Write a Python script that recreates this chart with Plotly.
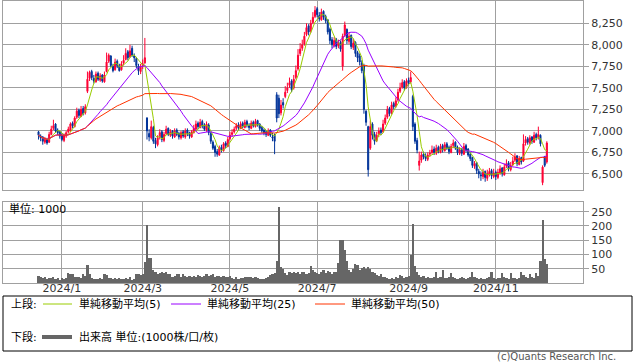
import pandas as pd
import plotly.graph_objects as go

W, H = 638, 362

# ---------------- data ----------------
holidays = ['2024-01-01', '2024-01-02', '2024-01-03', '2024-01-08', '2024-02-12', '2024-02-23',
            '2024-03-20', '2024-04-29', '2024-05-03', '2024-05-06', '2024-07-15', '2024-08-12',
            '2024-09-16', '2024-09-23', '2024-10-14', '2024-11-04']
dates = [d.strftime('%Y-%m-%d') for d in pd.bdate_range('2023-12-15', '2024-12-06')
         if d.strftime('%Y-%m-%d') not in holidays]

opens = [
    6990, 6940, 6930, 6870, 6900, 6870, 6960, 7030, 7080, 7010,
    6990, 6950, 6890, 6940, 6990, 7000, 7090, 7050, 7160, 7240,
    7170, 7260, 7210, 7460, 7610, 7690, 7610, 7570, 7670, 7590,
    7650, 7570, 7690, 7810, 7870, 7750, 7710, 7810, 7750, 7710,
    7790, 7830, 7920, 7860, 7960, 7870, 7840, 7750, 7690, 7760,
    7790, 7150, 6970, 6920, 7040, 6890, 6840, 6930, 6990, 6890,
    6970, 7030, 6950, 7000, 6930, 7010, 6970, 6920, 6990, 6930,
    7010, 6980, 6930, 6980, 7020, 7090, 7040, 7110, 7070, 7010,
    7070, 6970, 6870, 6820, 6760, 6720, 6810, 6770, 6860, 6820,
    6910, 6960, 6990, 7030, 7070, 7030, 7090, 7040, 7110, 7060,
    7030, 7100, 7050, 7120, 7080, 7040, 7010, 6990, 6950, 7010,
    6930, 6950, 7420, 7380, 7210, 7330, 7400, 7470, 7530, 7580,
    7500, 7620, 7720, 7900, 7960, 8010, 8120, 8220, 8160, 8260,
    8330, 8420, 8340, 8290, 8390, 8330, 8290, 8180, 8060, 7990,
    8060, 7990, 8030, 7750, 8110, 8180, 8040, 8110, 7970, 8030,
    7910, 7870, 7790, 7760, 7230, 7050, 6800, 7080, 6960, 6890,
    6960, 7010, 6990, 7090, 7160, 7260, 7210, 7320, 7290, 7360,
    7460, 7510, 7570, 7510, 7590, 7570, 7400, 7080, 6890, 6600,
    6660, 6730, 6710, 6670, 6730, 6750, 6790, 6740, 6810, 6750,
    6830, 6770, 6850, 6810, 6750, 6830, 6870, 6810, 6740, 6790,
    6730, 6830, 6790, 6730, 6690, 6590, 6630, 6530, 6490, 6470,
    6530, 6450, 6490, 6540, 6470, 6520, 6460, 6510, 6570, 6490,
    6590, 6630, 6550, 6610, 6660, 6710, 6610, 6690, 6650, 6860,
    6910, 6860, 6930, 6870, 6960, 6930, 6950, 6400, 6700, 6640,
]
highs = [
    7000, 6960, 6940, 6930, 6920, 6990, 7060, 7130, 7090, 7030,
    7000, 6970, 6970, 7000, 7050, 7100, 7110, 7170, 7270, 7260,
    7290, 7290, 7310, 7690, 7700, 7710, 7650, 7690, 7690, 7670,
    7660, 7690, 7910, 7900, 7880, 7780, 7840, 7830, 7780, 7810,
    7880, 7960, 7940, 8000, 7990, 7900, 7860, 7780, 7780, 7830,
    8080, 7160, 7020, 7120, 7060, 6920, 6950, 7020, 7010, 6990,
    7060, 7040, 7020, 7010, 7030, 7030, 6990, 7000, 7010, 7030,
    7030, 6990, 7010, 7070, 7120, 7110, 7140, 7130, 7090, 7110,
    7090, 6990, 6890, 6840, 6790, 6830, 6840, 6870, 6880, 6930,
    6990, 7020, 7050, 7090, 7100, 7110, 7110, 7130, 7130, 7090,
    7120, 7120, 7140, 7130, 7090, 7060, 7030, 7010, 7030, 7020,
    6980, 6970, 7450, 7420, 7360, 7380, 7520, 7560, 7620, 7600,
    7650, 7760, 7950, 8020, 8060, 8150, 8250, 8240, 8290, 8380,
    8450, 8440, 8380, 8420, 8400, 8350, 8300, 8200, 8090, 8090,
    8080, 8060, 8050, 8130, 8270, 8190, 8140, 8120, 8070, 8040,
    7930, 7900, 7820, 7780, 7240, 7060, 7120, 7100, 6990, 6990,
    7040, 7040, 7130, 7190, 7290, 7280, 7340, 7340, 7390, 7490,
    7560, 7600, 7590, 7610, 7620, 7690, 7420, 7100, 6920, 6760,
    6760, 6760, 6740, 6750, 6780, 6830, 6820, 6840, 6830, 6850,
    6850, 6870, 6870, 6830, 6850, 6900, 6880, 6830, 6810, 6800,
    6860, 6850, 6800, 6750, 6700, 6650, 6640, 6560, 6530, 6560,
    6540, 6550, 6570, 6560, 6560, 6540, 6560, 6600, 6580, 6620,
    6670, 6650, 6640, 6700, 6740, 6720, 6710, 6700, 6960, 6940,
    6930, 6950, 6940, 6990, 6980, 7050, 6960, 6600, 6710, 6880,
]
lows = [
    6900, 6880, 6840, 6850, 6840, 6860, 6950, 7010, 6980, 6950,
    6910, 6880, 6870, 6920, 6970, 6990, 7030, 7040, 7140, 7150,
    7160, 7180, 7190, 7440, 7580, 7590, 7550, 7560, 7580, 7570,
    7560, 7560, 7680, 7790, 7740, 7680, 7700, 7730, 7690, 7700,
    7760, 7820, 7820, 7850, 7860, 7800, 7730, 7650, 7660, 7720,
    7780, 6900, 6880, 6900, 6850, 6800, 6820, 6900, 6870, 6870,
    6950, 6940, 6930, 6910, 6920, 6940, 6900, 6900, 6920, 6910,
    6940, 6910, 6920, 6970, 7000, 7020, 7030, 7030, 7000, 6990,
    6950, 6850, 6780, 6700, 6700, 6710, 6750, 6760, 6800, 6810,
    6890, 6930, 6970, 7010, 7010, 7020, 7030, 7030, 7040, 7010,
    7020, 7040, 7040, 7050, 7000, 6980, 6950, 6930, 6940, 6930,
    6880, 6730, 7100, 7150, 7180, 7260, 7380, 7440, 7500, 7450,
    7480, 7600, 7700, 7870, 7930, 7990, 8100, 8110, 8140, 8240,
    8310, 8320, 8270, 8280, 8290, 8250, 8120, 8010, 7960, 7970,
    7950, 7960, 7920, 7700, 8090, 8010, 8010, 7950, 7940, 7860,
    7800, 7760, 7670, 7200, 7060, 6470, 6780, 6900, 6840, 6870,
    6930, 6950, 6980, 7070, 7140, 7170, 7190, 7250, 7270, 7340,
    7440, 7490, 7470, 7490, 7530, 7550, 7000, 6850, 6740, 6540,
    6630, 6670, 6650, 6650, 6700, 6730, 6720, 6720, 6740, 6740,
    6750, 6760, 6780, 6730, 6740, 6800, 6780, 6720, 6720, 6710,
    6720, 6750, 6700, 6650, 6570, 6560, 6500, 6450, 6420, 6440,
    6410, 6420, 6470, 6440, 6450, 6430, 6440, 6490, 6470, 6480,
    6570, 6530, 6530, 6590, 6640, 6590, 6600, 6610, 6640, 6830,
    6840, 6840, 6850, 6860, 6890, 6900, 6820, 6370, 6580, 6620,
]
closes = [
    6950, 6920, 6880, 6900, 6860, 6960, 7020, 7060, 7000, 6980,
    6940, 6900, 6950, 6980, 7020, 7080, 7060, 7150, 7230, 7180,
    7250, 7200, 7280, 7600, 7680, 7620, 7580, 7660, 7600, 7640,
    7580, 7650, 7800, 7880, 7760, 7700, 7800, 7760, 7700, 7780,
    7820, 7900, 7850, 7930, 7880, 7850, 7760, 7700, 7740, 7780,
    7850, 7000, 6930, 7050, 6880, 6850, 6920, 6980, 6900, 6960,
    7020, 6960, 6990, 6940, 7000, 6960, 6930, 6980, 6940, 7000,
    6970, 6940, 6990, 7030, 7080, 7050, 7100, 7060, 7020, 7080,
    6980, 6880, 6800, 6750, 6730, 6800, 6780, 6850, 6830, 6900,
    6950, 6980, 7020, 7060, 7040, 7080, 7050, 7100, 7070, 7040,
    7090, 7060, 7110, 7070, 7030, 7000, 6980, 6960, 7000, 6950,
    6920, 6880, 7150, 7200, 7300, 7300, 7450, 7500, 7560, 7480,
    7600, 7700, 7880, 7950, 8000, 8100, 8200, 8150, 8250, 8320,
    8400, 8350, 8300, 8380, 8320, 8280, 8150, 8050, 8000, 8050,
    7980, 8020, 7950, 8100, 8230, 8050, 8100, 7980, 8020, 7900,
    7850, 7800, 7700, 7250, 7100, 6550, 7050, 6950, 6880, 6950,
    7000, 6980, 7080, 7150, 7250, 7200, 7300, 7280, 7350, 7450,
    7500, 7560, 7500, 7580, 7560, 7620, 7050, 6880, 6780, 6650,
    6720, 6700, 6680, 6720, 6740, 6780, 6750, 6800, 6760, 6820,
    6780, 6840, 6800, 6760, 6820, 6860, 6800, 6750, 6780, 6740,
    6820, 6780, 6720, 6680, 6600, 6620, 6540, 6500, 6480, 6520,
    6460, 6500, 6530, 6480, 6510, 6470, 6520, 6560, 6500, 6580,
    6620, 6560, 6600, 6650, 6700, 6620, 6680, 6640, 6850, 6900,
    6870, 6920, 6880, 6950, 6920, 6960, 6850, 6580, 6600, 6860,
]
volumes = [
    23, 20, 18, 20, 15, 18, 17, 20, 14, 18,
    12, 17, 15, 16, 35, 33, 30, 20, 22, 20,
    18, 30, 25, 62, 30, 16, 14, 15, 14, 16,
    15, 30, 28, 18, 16, 15, 18, 14, 16, 15,
    14, 16, 13, 20, 12, 14, 33, 30, 28, 30,
    73, 205, 87, 87, 45, 38, 30, 34, 38, 36,
    38, 32, 30, 22, 26, 33, 30, 20, 30, 24,
    22, 26, 20, 24, 22, 28, 24, 20, 23, 30,
    26, 28, 30, 22, 25, 24, 20, 23, 22, 20,
    25, 16, 15, 20, 14, 16, 18, 20, 20, 20,
    22, 19, 20, 16, 15, 14, 15, 18, 22, 28,
    30, 35, 76, 265, 55, 48, 35, 28, 38, 35,
    40, 35, 38, 30, 40, 38, 32, 35, 58, 45,
    40, 35, 30, 38, 45, 35, 42, 40, 33, 40,
    38, 70, 150, 150, 115, 77, 45, 40, 50, 65,
    62, 45, 52, 55, 48, 55, 50, 40, 35, 28,
    25, 30, 22, 20, 18, 15, 16, 15, 20, 18,
    28, 25, 18, 20, 25, 98, 208, 58, 40, 28,
    22, 25, 18, 20, 16, 18, 22, 40, 18, 20,
    45, 18, 16, 20, 35, 22, 18, 15, 17, 20,
    18, 15, 17, 22, 40, 20, 18, 14, 16, 13,
    15, 18, 20, 38, 18, 15, 16, 18, 35, 20,
    16, 15, 35, 18, 16, 14, 18, 40, 28, 20,
    18, 30, 22, 18, 35, 25, 76, 222, 83, 68,
]

month_ticks = ['2024-01-04', '2024-03-01', '2024-05-01', '2024-07-01', '2024-09-02', '2024-11-01']
month_labels = ['2024/1', '2024/3', '2024/5', '2024/7', '2024/9', '2024/11']
price_ticks = [6500, 6750, 7000, 7250, 7500, 7750, 8000, 8250]
vol_ticks = [50, 100, 150, 200, 250]
ma_periods = [5, 25, 50]
ma_colors = ['#99cc00', '#9900ff', '#ff3300']

# ---------------- figure ----------------
close_s = pd.Series(closes)
fig = go.Figure()
fig.add_trace(go.Candlestick(
    x=dates, open=opens, high=highs, low=lows, close=closes,
    increasing=dict(line=dict(color='#ff0033', width=1), fillcolor='#ff0033'),
    decreasing=dict(line=dict(color='#003399', width=1), fillcolor='#003399'),
    whiskerwidth=0, xaxis='x', yaxis='y', showlegend=False, hoverinfo='skip'))
for p, col in zip(ma_periods, ma_colors):
    ma = close_s.rolling(p, min_periods=1).mean()
    fig.add_trace(go.Scatter(x=dates, y=ma, mode='lines', line=dict(color=col, width=1),
                             xaxis='x', yaxis='y', showlegend=False, hoverinfo='skip'))
fig.add_trace(go.Bar(x=dates, y=volumes, marker=dict(color='#666666', line=dict(width=0)),
                     xaxis='x2', yaxis='y2', showlegend=False, hoverinfo='skip'))

GRID = '#a0a0a0'
xdom = [3 / W, 583 / W]
xrange_ = [-16.7, 256]
tickfont = dict(family='DejaVu Sans, Noto Sans CJK JP', size=11, color='#333333')

def py(y):
    return 1 - y / H

fig.update_layout(
    width=W, height=H, margin=dict(l=0, r=0, t=0, b=0),
    paper_bgcolor='white', plot_bgcolor='white', bargap=0,
    xaxis=dict(domain=xdom, anchor='y', type='category', range=xrange_,
               tickvals=month_ticks, showticklabels=False, ticks='',
               showgrid=True, gridcolor=GRID, gridwidth=1,
               showline=True, linecolor=GRID, mirror=True,
               rangeslider=dict(visible=False), fixedrange=True),
    yaxis=dict(domain=[py(190), py(1)], anchor='x', side='right', range=[6314, 8509],
               tickvals=price_ticks, ticktext=[f'{v:,}' for v in price_ticks],
               ticks='outside', ticklen=5, tickcolor=GRID, tickfont=tickfont,
               showgrid=True, gridcolor=GRID, gridwidth=1, zeroline=False,
               showline=True, linecolor=GRID, mirror=True, automargin=False),
    xaxis2=dict(domain=xdom, anchor='y2', type='category', range=xrange_,
                tickvals=month_ticks, ticktext=month_labels, ticks='',
                ticklabelstandoff=-5,
                tickfont=tickfont, showgrid=True, gridcolor=GRID, gridwidth=1,
                showline=True, linecolor=GRID, mirror=True, automargin=False),
    yaxis2=dict(domain=[py(283), py(202)], anchor='x2', side='right', range=[0, 284],
                tickvals=vol_ticks, ticks='outside', ticklen=5, tickcolor=GRID,
                tickfont=tickfont, showgrid=True, gridcolor=GRID, gridwidth=1,
                zeroline=False, showline=True, linecolor=GRID, mirror=True,
                automargin=False),
)

shapes = [dict(type='rect', xref='paper', yref='paper', x0=3 / W, x1=632 / W,
               y0=py(351), y1=py(296), line=dict(color='black', width=1))]
for (x0, x1), col in zip([(43, 72), (171, 201), (315, 345)], ma_colors):
    shapes.append(dict(type='line', xref='paper', yref='paper', x0=x0 / W, x1=x1 / W,
                       y0=py(304), y1=py(304), line=dict(color=col, width=1)))
shapes.append(dict(type='line', xref='paper', yref='paper', x0=42 / W, x1=72 / W,
                   y0=py(337), y1=py(337), line=dict(color='#666666', width=4)))
fig.update_layout(shapes=shapes)

lf = dict(family='DejaVu Sans, Noto Sans CJK JP', size=11, color='black')
texts = [
    ('上段:', 9, 304, 'left'),
    ('単純移動平均(5)', 77, 304, 'left'),
    ('単純移動平均(25)', 205, 304, 'left'),
    ('単純移動平均(50)', 349, 304, 'left'),
    ('下段:', 9, 337, 'left'),
    ('出来高 単位:(1000株/口/枚)', 77, 337, 'left'),
    ('単位: 1000', 7, 209, 'left'),
]
ann = [dict(text=t, x=x / W, y=py(y), xref='paper', yref='paper', xanchor=a,
            yanchor='middle', showarrow=False, font=lf) for t, x, y, a in texts]
ann.append(dict(text='(c)Quants Research Inc.', x=618 / W, y=py(356), xref='paper',
                yref='paper', xanchor='right', yanchor='middle', showarrow=False,
                font=dict(family='DejaVu Sans', size=10, color='#555555')))
fig.update_layout(annotations=ann)

fig.write_html('out.html')
